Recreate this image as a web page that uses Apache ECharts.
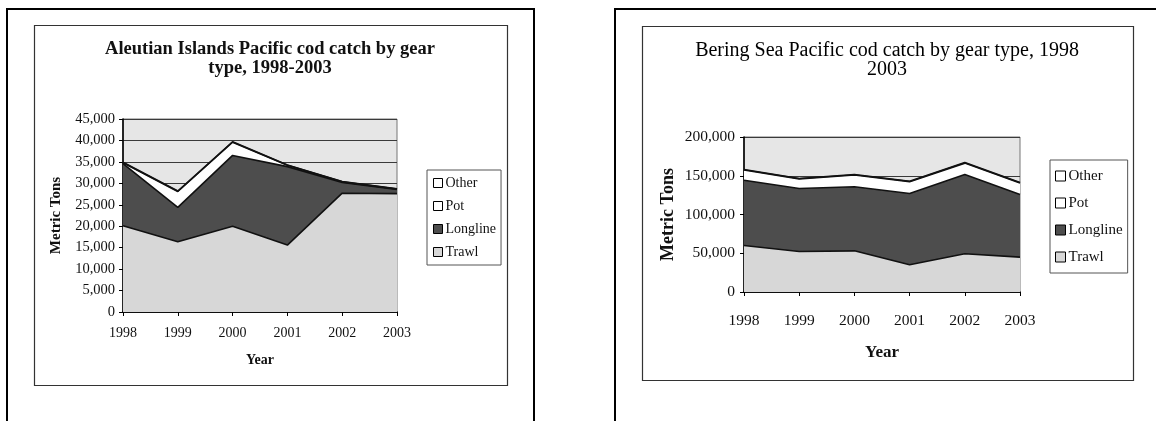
<!DOCTYPE html>
<html>
<head>
<meta charset="utf-8">
<script src="https://cdn.jsdelivr.net/npm/echarts@6/dist/echarts.min.js"></script>
<style>
html,body{margin:0;padding:0;background:#fff;}
#c{width:1156px;height:421px;}
</style>
</head>
<body>
<div id="c"></div>
<script>
// ---- data ----
var years = ['1998', '1999', '2000', '2001', '2002', '2003'];
var legendOrder = ['Other', 'Pot', 'Longline', 'Trawl'];

// Aleutian Islands (metric tons)
var aiTrawl    = [20100, 16400, 20000, 15600, 27700, 27600];
var aiLongline = [14500,  8000, 16500, 18300,  2500,  1000];
var aiPot      = [  200,  3700,  3100,   300,   150,    80];
var aiOther    = [  100,   100,   100,   100,    50,    20];

// Bering Sea (metric tons)
var bsTrawl    = [60000, 52200, 53100, 35100, 49300, 45000];
var bsLongline = [84300, 81400, 82700, 92100, 102300, 80900];
var bsPot      = [13100, 12400, 15100, 15200, 14700, 14900];
var bsOther    = [  600,   500,   700,   600,   700,   500];

var aiYTicks = {min: 0, max: 45000, interval: 5000};
var bsYTicks = {min: 0, max: 200000, interval: 50000};

// ---- styling ----
var fills = {Trawl: '#d7d7d7', Longline: '#4d4d4d', Pot: '#ffffff', Other: '#ffffff'};
var SERIF = '"Liberation Serif", "Times New Roman", serif';

function fmt(v) { return String(v).replace(/\B(?=(\d{3})+(?!\d))/g, ','); }

function mkSeries(name, data, idx, stack) {
  return {
    name: name, type: 'line', data: data,
    xAxisIndex: idx, yAxisIndex: idx, stack: stack,
    showSymbol: false, symbol: 'none', smooth: false,
    lineStyle: {color: '#111', width: 1.6},
    itemStyle: {color: fills[name], borderColor: '#000', borderWidth: 1},
    areaStyle: {color: fills[name], opacity: 1},
    emphasis: {disabled: true},
    animation: false
  };
}

function mkX(gridIdx, fontSize, labelMargin, nameGap, nameSize) {
  return {
    type: 'category', gridIndex: gridIdx, data: years, boundaryGap: false,
    axisLine: {show: true, lineStyle: {color: '#000', width: 1.6}},
    axisTick: {show: true, alignWithLabel: true, length: 4, lineStyle: {color: '#000', width: 1}},
    axisLabel: {color: '#111', fontFamily: SERIF, fontSize: fontSize, margin: labelMargin},
    name: 'Year', nameLocation: 'middle', nameGap: nameGap,
    nameTextStyle: {color: '#111', fontFamily: SERIF, fontSize: nameSize, fontWeight: 'bold'},
    splitLine: {show: false}
  };
}

function mkY(gridIdx, t, fontSize, labelMargin, nameGap, nameSize, nameWeight) {
  return {
    type: 'value', gridIndex: gridIdx, min: t.min, max: t.max, interval: t.interval,
    axisLine: {show: true, lineStyle: {color: '#000', width: 1.6}},
    axisTick: {show: true, length: 4, lineStyle: {color: '#000', width: 1}},
    axisLabel: {color: '#111', fontFamily: SERIF, fontSize: fontSize, margin: labelMargin, formatter: fmt},
    splitLine: {show: true, lineStyle: {color: '#3a3a3a', width: 1.2}},
    name: 'Metric Tons', nameLocation: 'middle', nameGap: nameGap, nameRotate: 90,
    nameTextStyle: {color: '#111', fontFamily: SERIF, fontSize: nameSize, fontWeight: nameWeight}
  };
}

var chart = echarts.init(document.getElementById('c'), null, {renderer: 'canvas'});

var option = {
  animation: false,
  backgroundColor: '#ffffff',
  title: [
    {
      text: 'Aleutian Islands Pacific cod catch by gear\ntype, 1998-2003',
      left: 270, top: 40, textAlign: 'center', padding: 0,
      textStyle: {fontFamily: SERIF, fontSize: 18.5, fontWeight: 'bold', color: '#111', lineHeight: 19}
    },
    {
      text: 'Bering Sea Pacific cod catch by gear type, 1998\n2003',
      left: 887, top: 41, textAlign: 'center', padding: 0,
      textStyle: {fontFamily: SERIF, fontSize: 20, fontWeight: 'normal', color: '#000', lineHeight: 19}
    }
  ],
  grid: [
    {left: 123, top: 119, width: 274, height: 193, show: true, backgroundColor: '#e6e6e6', borderColor: '#777', borderWidth: 1},
    {left: 744, top: 137, width: 276, height: 155, show: true, backgroundColor: '#e6e6e6', borderColor: '#777', borderWidth: 1}
  ],
  xAxis: [
    mkX(0, 14, 14, 41, 14),
    mkX(1, 15.5, 21, 52, 17)
  ],
  yAxis: [
    mkY(0, aiYTicks, 14.5, 8, 59, 15, 'bold'),
    mkY(1, bsYTicks, 15.5, 9, 67, 18, 'bold')
  ],
  legend: [
    {
      data: legendOrder, orient: 'vertical', left: 427, top: 170,
      icon: 'rect', itemWidth: 9, itemHeight: 9, itemGap: 9,
      padding: [6, 5, 6, 6], borderColor: '#555', borderWidth: 1,
      backgroundColor: '#fff',
      itemStyle: {borderColor: '#000', borderWidth: 1},
      textStyle: {fontFamily: SERIF, fontSize: 14, color: '#111', padding: [0, 0, 0, -2], lineHeight: 14},
      selectedMode: false
    },
    {
      data: legendOrder, orient: 'vertical', left: 1050, top: 160,
      icon: 'rect', itemWidth: 10, itemHeight: 10, itemGap: 11,
      padding: [8, 5, 8, 5], borderColor: '#555', borderWidth: 1,
      backgroundColor: '#fff',
      itemStyle: {borderColor: '#000', borderWidth: 1},
      textStyle: {fontFamily: SERIF, fontSize: 15, color: '#111', padding: [0, 0, 0, -2], lineHeight: 16},
      selectedMode: false
    }
  ],
  series: [
    mkSeries('Trawl', aiTrawl, 0, 'ai'),
    mkSeries('Longline', aiLongline, 0, 'ai'),
    mkSeries('Pot', aiPot, 0, 'ai'),
    mkSeries('Other', aiOther, 0, 'ai'),
    mkSeries('Trawl', bsTrawl, 1, 'bs'),
    mkSeries('Longline', bsLongline, 1, 'bs'),
    mkSeries('Pot', bsPot, 1, 'bs'),
    mkSeries('Other', bsOther, 1, 'bs')
  ],
  graphic: [
    {type: 'rect', shape: {x: 7, y: 9, width: 527, height: 440}, style: {fill: 'none', stroke: '#000', lineWidth: 2}, z: -10, silent: true},
    {type: 'rect', shape: {x: 34.5, y: 25.5, width: 473, height: 360}, style: {fill: 'none', stroke: '#333', lineWidth: 1.2}, z: -10, silent: true},
    {type: 'rect', shape: {x: 615, y: 9, width: 560, height: 440}, style: {fill: 'none', stroke: '#000', lineWidth: 2}, z: -10, silent: true},
    {type: 'rect', shape: {x: 642.5, y: 26.5, width: 491, height: 354}, style: {fill: 'none', stroke: '#333', lineWidth: 1.2}, z: -10, silent: true}
  ]
};

chart.setOption(option);
</script>
</body>
</html>
